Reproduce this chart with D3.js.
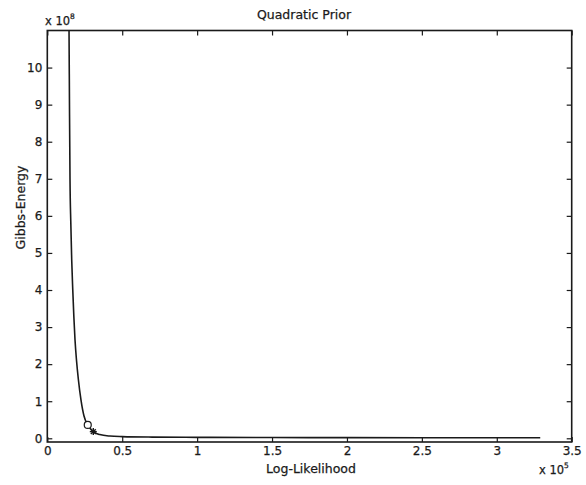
<!DOCTYPE html>
<html>
<head>
<meta charset="utf-8">
<script src="https://cdn.jsdelivr.net/npm/d3@7"></script>
<style>
  html, body { margin: 0; padding: 0; background: #fff; }
  svg { display: block; }
  text { font-family: "DejaVu Sans", "Liberation Sans", sans-serif; fill: #1a1a1a; stroke: #1a1a1a; stroke-width: 0.25px; }
</style>
</head>
<body>
<svg id="chart" width="586" height="485"></svg>
<script>
// Log-likelihood (x 10^5) vs Gibbs energy (x 10^8) along the prior trade-off curve
const logLik = [0.140, 0.143, 0.145, 0.148, 0.1515, 0.157, 0.163, 0.170, 0.177, 0.185, 0.195, 0.207,
                0.225, 0.245, 0.270, 0.307, 0.350, 0.418, 0.500, 0.700, 1.000, 1.500, 2.000, 2.500, 3.000, 3.290];
const gibbs  = [13.0, 11.5, 11.0, 9.0, 7.0, 5.8, 4.8, 4.0, 3.3, 2.65, 2.1, 1.6,
                1.03, 0.6, 0.36, 0.18, 0.1, 0.06, 0.045, 0.032, 0.026, 0.021, 0.018, 0.016, 0.015, 0.014];

// Highlighted operating points
const circlePoint = { x: 0.270, y: 0.36 };
const starPoint   = { x: 0.307, y: 0.18 };

const xTicks = [0, 0.5, 1, 1.5, 2, 2.5, 3, 3.5];
const yTicks = [0, 1, 2, 3, 4, 5, 6, 7, 8, 9, 10];

const titleText = "Quadratic Prior";
const xLabelText = "Log-Likelihood";
const yLabelText = "Gibbs-Energy";

const svg = d3.select("#chart");
const plotL = 47.3, plotR = 571.7, plotT = 30.5, plotB = 442;

const x = d3.scaleLinear().domain([0, 3.5]).range([plotL, plotR]);
const y = d3.scaleLinear().domain([-0.1, 11]).range([plotB, plotT]);

const ink = "#1a1a1a";
const fmt = d => d3.format("~g")(d);

// clip region for the plotted data
svg.append("defs").append("clipPath").attr("id", "plotClip")
  .append("rect").attr("x", plotL).attr("y", plotT).attr("width", plotR - plotL).attr("height", plotB - plotT);

// axes with inward ticks on all four sides
const tickLen = 5;
const axB = svg.append("g").attr("transform", `translate(0,${plotB})`)
  .call(d3.axisBottom(x).tickValues(xTicks).tickSizeInner(-tickLen).tickSizeOuter(0).tickPadding(6).tickFormat(fmt));
const axT = svg.append("g").attr("transform", `translate(0,${plotT})`)
  .call(d3.axisTop(x).tickValues(xTicks).tickSizeInner(-tickLen).tickSizeOuter(0).tickFormat(""));
const axL = svg.append("g").attr("transform", `translate(${plotL},0)`)
  .call(d3.axisLeft(y).tickValues(yTicks).tickSizeInner(-tickLen).tickSizeOuter(0).tickPadding(5).tickFormat(fmt));
const axR = svg.append("g").attr("transform", `translate(${plotR},0)`)
  .call(d3.axisRight(y).tickValues(yTicks).tickSizeInner(-tickLen).tickSizeOuter(0).tickFormat(""));

[axB, axT, axL, axR].forEach(g => {
  g.select(".domain").remove();
  g.selectAll(".tick line").attr("stroke", ink).attr("stroke-width", 1.2);
  g.selectAll(".tick text").attr("font-size", 12).attr("fill", ink)
    .style("font-family", "'DejaVu Sans', sans-serif");
});
axB.selectAll(".tick text").attr("dy", "0.6em");

// box
svg.append("rect")
  .attr("x", plotL).attr("y", plotT).attr("width", plotR - plotL).attr("height", plotB - plotT)
  .attr("fill", "none").attr("stroke", ink).attr("stroke-width", 1.6);

// curve
const line = d3.line().x((d, i) => x(logLik[i])).y((d, i) => y(gibbs[i])).curve(d3.curveMonotoneX);
svg.append("path")
  .datum(gibbs)
  .attr("clip-path", "url(#plotClip)")
  .attr("d", line)
  .attr("fill", "none").attr("stroke", ink).attr("stroke-width", 1.6);

// open circle marker
svg.append("circle")
  .attr("cx", x(circlePoint.x)).attr("cy", y(circlePoint.y)).attr("r", 3.5)
  .attr("fill", "#fff").attr("stroke", ink).attr("stroke-width", 1.2);

// asterisk marker
const sx = x(starPoint.x), sy = y(starPoint.y), s = 3.5;
const star = svg.append("g").attr("stroke", ink).attr("stroke-width", 1.4);
[[0, 1], [1, 0], [0.7071, 0.7071], [0.7071, -0.7071]].forEach(([dx, dy]) => {
  star.append("line")
    .attr("x1", sx - dx * s).attr("y1", sy - dy * s)
    .attr("x2", sx + dx * s).attr("y2", sy + dy * s);
});

// title and axis labels
svg.append("text").attr("x", 304).attr("y", 19).attr("text-anchor", "middle")
  .attr("font-size", 12.5).text(titleText);
svg.append("text").attr("x", 311).attr("y", 472.5).attr("text-anchor", "middle")
  .attr("font-size", 12.5).text(xLabelText);
svg.append("text").attr("transform", "translate(24.5,207.5) rotate(-90)").attr("text-anchor", "middle")
  .attr("font-size", 12.5).text(yLabelText);

// exponent multipliers
function multiplier(xp, yp, exp) {
  const t = svg.append("text").attr("x", xp).attr("y", yp).attr("font-size", 11.5);
  t.append("tspan").text("x 10");
  t.append("tspan").attr("font-size", 7.5).attr("dy", -6).text(exp);
}
multiplier(45, 25, "8");
multiplier(539, 474, "5");
</script>
</body>
</html>
